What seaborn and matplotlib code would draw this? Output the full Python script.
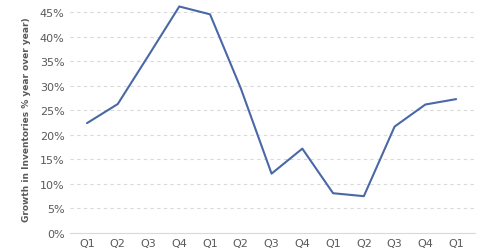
import matplotlib
matplotlib.use("Agg")
import matplotlib.pyplot as plt
import seaborn as sns
import pandas as pd
from matplotlib.ticker import FuncFormatter

quarters = ["Q1", "Q2", "Q3", "Q4", "Q1", "Q2", "Q3", "Q4", "Q1", "Q2", "Q3", "Q4", "Q1"]
growth = [22.4, 26.3, 36.2, 46.2, 44.6, 29.5, 12.1, 17.2, 8.1, 7.5, 21.7, 26.2, 27.3]
yticks = [0, 5, 10, 15, 20, 25, 30, 35, 40, 45]

df = pd.DataFrame({"idx": range(len(quarters)), "growth": growth})

sns.set_style("white")
plt.rcParams['font.family'] = ['DejaVu Sans']

fig = plt.figure(figsize=(4.8, 2.51), dpi=100)
ax = fig.add_axes([0.146, 0.068, 0.844, 0.91])

sns.lineplot(data=df, x="idx", y="growth", ax=ax, color="#4a68a6", linewidth=1.5)

ax.set_xlim(-0.55, 12.62)
ax.set_ylim(0, 46.6)
ax.set_yticks(yticks)
ax.yaxis.set_major_formatter(FuncFormatter(lambda v, p: f"{int(v)}%"))
ax.set_xticks(range(len(quarters)))
ax.set_xticklabels(quarters)
ax.tick_params(axis="both", length=0, labelsize=8, colors="#595959", pad=4)
ax.set_xlabel("")
ax.set_ylabel("Growth in Inventories % year over year)", fontsize=6.5,
              fontweight="bold", color="#595959", labelpad=6)

for y in yticks[1:]:
    ax.axhline(y, color="#d9d9d9", linewidth=0.8, linestyle=(0, (3, 3)), zorder=0)

for s in ["top", "right", "left"]:
    ax.spines[s].set_visible(False)
ax.spines["bottom"].set_color("#d9d9d9")
ax.spines["bottom"].set_linewidth(0.8)

fig.savefig("out.png", dpi=100)
